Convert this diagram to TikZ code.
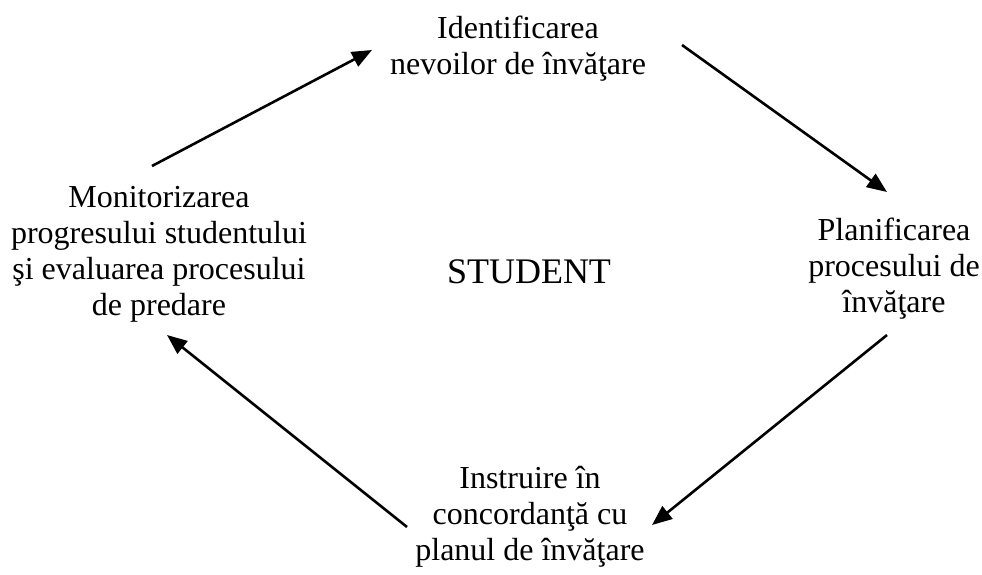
\documentclass[tikz,border=0pt]{standalone}
\usepackage{fontspec}
\setmainfont{Liberation Serif}
\usetikzlibrary{arrows.meta}
\begin{document}
\begin{tikzpicture}[x=1pt,y=-1pt,
  lbl/.style={align=center,inner sep=0pt,anchor=base,font=\fontsize{32}{36}\selectfont},
  arr/.style={line width=2.6pt,-{Triangle[length=20pt,width=16pt]}}]
\useasboundingbox (0,0) rectangle (982,574);
\node[lbl] (top) at (518,74) {Identificarea\\nevoilor de învăţare};
\node[lbl] (right) at (894,312) {Planificarea\\procesului de\\învăţare};
\node[lbl] (bottom) at (530,560) {Instruire în\\concordanţă cu\\planul de învăţare};
\node[lbl] (left) at (159,315) {Monitorizarea\\progresului studentului\\şi evaluarea procesului\\de predare};
\node[anchor=base,inner sep=0pt,font=\fontsize{36}{40}\selectfont] (student) at (529,283) {STUDENT};
\coordinate (a1s) at (152,166);
\coordinate (a1e) at (372,50);
\coordinate (a2s) at (682,45);
\coordinate (a2e) at (887,192);
\coordinate (a3s) at (887,335);
\coordinate (a3e) at (652,525);
\coordinate (a4s) at (407,527);
\coordinate (a4e) at (167,335);
\draw[arr] (a1s) -- (a1e);
\draw[arr] (a2s) -- (a2e);
\draw[arr] (a3s) -- (a3e);
\draw[arr] (a4s) -- (a4e);
\end{tikzpicture}
\end{document}
